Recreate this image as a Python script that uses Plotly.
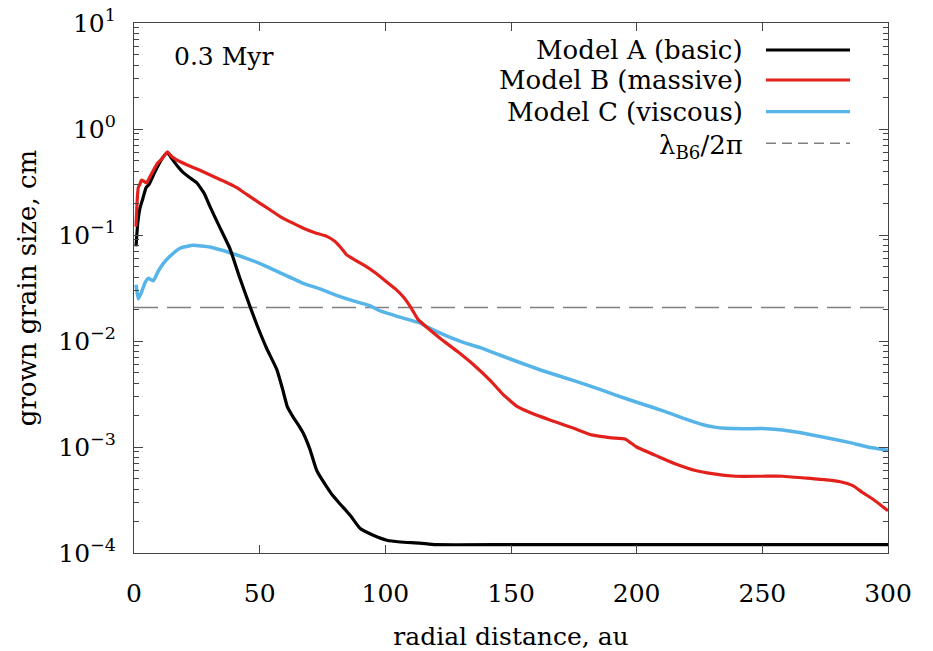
import plotly.graph_objects as go

# ---------------- data ----------------
r_a = [0.8, 1.5, 2.4, 3.5, 4.8, 6, 8, 10, 11.5, 13.3, 14.5, 16, 17.5, 19.5, 22, 25, 28,
       30.2, 34, 38.2, 42, 46.2, 49, 52.8, 56.8, 59, 61, 63.4, 65.5, 67.4, 70, 72.7, 76.7,
       79, 82, 86, 90, 95.2, 100.6, 106, 113.8, 120, 150, 200, 250, 300]
a_model_a = [0.078, 0.13, 0.18, 0.22, 0.28, 0.3, 0.38, 0.47, 0.54, 0.60, 0.55, 0.49, 0.44,
             0.39, 0.35, 0.31, 0.245, 0.186, 0.12, 0.074, 0.04, 0.021, 0.014, 0.0085, 0.0054,
             0.0036, 0.0024, 0.0019, 0.0016, 0.00134, 0.00095, 0.0006, 0.00042, 0.00035,
             0.00029, 0.000227, 0.00017, 0.000147, 0.000132, 0.000127, 0.000124, 0.00012,
             0.00012, 0.00012, 0.00012, 0.00012]

r_b = [0.8, 1.2, 1.7, 2.3, 3, 4, 5, 6.5, 8, 9.5, 11, 12.3, 13.3, 15, 17, 21, 26, 31.6, 36,
       40.9, 45, 50, 54.1, 58, 63, 67.4, 72, 76.7, 80, 82.5, 84.6, 88, 92.6, 96, 100.6, 104,
       107.2, 110, 113, 116.6, 122, 128.6, 135, 141.9, 147, 152.6, 160, 167.3, 175, 182, 190,
       195.4, 200, 208.7, 215, 223.4, 230, 239.4, 250, 258.1, 267, 275.5, 281, 286.2, 290,
       294.2, 300]
a_model_b = [0.12, 0.2, 0.28, 0.3, 0.33, 0.32, 0.31, 0.36, 0.42, 0.48, 0.52, 0.57, 0.61, 0.55,
             0.51, 0.46, 0.41, 0.356, 0.32, 0.28, 0.24, 0.2, 0.173, 0.15, 0.13, 0.116, 0.105,
             0.097, 0.087, 0.075, 0.065, 0.058, 0.050, 0.044, 0.036, 0.031, 0.026, 0.021, 0.016,
             0.0134, 0.0105, 0.0080, 0.006, 0.0042, 0.0031, 0.0024, 0.002, 0.00174, 0.0015,
             0.0013, 0.00122, 0.00119, 0.001, 0.00081, 0.0007, 0.0006, 0.00056, 0.00053,
             0.00053, 0.00053, 0.00051, 0.00049, 0.00047, 0.00043, 0.00037, 0.00032, 0.00025]

r_c = [0.8, 1.7, 3, 4.5, 5.7, 7.7, 9.5, 11.7, 14, 18.3, 23.6, 30.2, 38.2, 45, 51.5, 60, 67.4,
       74, 80.6, 87, 93.9, 98, 105, 113.8, 116.6, 124.6, 131, 138, 146, 154, 162, 171.4, 181,
       191.4, 201, 211.4, 219, 226.1, 231, 235.4, 243, 251.5, 258, 264.8, 275, 284.9, 292, 300]
a_model_c = [0.034, 0.025, 0.029, 0.036, 0.039, 0.037, 0.045, 0.054, 0.062, 0.075, 0.080,
             0.077, 0.068, 0.06, 0.052, 0.042, 0.035, 0.031, 0.027, 0.024, 0.0215, 0.0192,
             0.017, 0.0148, 0.0136, 0.0111, 0.0097, 0.0086, 0.0073, 0.0062, 0.0053, 0.0045,
             0.0038, 0.0031, 0.0026, 0.00216, 0.00185, 0.00163, 0.00154, 0.0015, 0.00149,
             0.00149, 0.00145, 0.00137, 0.00123, 0.0011, 0.001, 0.00093]

r_lam = [0, 300]
lam_b6_2pi = [0.0207, 0.0207]

series_names = ["Model A (basic)", "Model B (massive)", "Model C (viscous)",
                "λ<sub>B6</sub>/2π"]
series_colors = ["#000000", "#e3211c", "#56b4e9", "#808080"]

y_tickvals = [1e-4, 1e-3, 1e-2, 1e-1, 1e0, 1e1]
y_ticktext = ["10<sup>−4</sup>", "10<sup>−3</sup>", "10<sup>−2</sup>",
              "10<sup>−1</sup>", "10<sup>0</sup>", "10<sup>1</sup>"]
y_minor = [m * 10.0 ** e for e in range(-4, 1) for m in range(2, 10)]
x_tickvals = [0, 50, 100, 150, 200, 250, 300]

FONT = "DejaVu Serif"

fig = go.Figure()
fig.add_trace(go.Scatter(x=r_lam, y=lam_b6_2pi, mode="lines",
                         line=dict(color=series_colors[3], width=1.5, dash="24px,9px"),
                         showlegend=False))
fig.add_trace(go.Scatter(x=r_c, y=a_model_c, mode="lines",
                         line=dict(color=series_colors[2], width=3.5, shape="spline",
                                   smoothing=0.4), showlegend=False))
fig.add_trace(go.Scatter(x=r_a, y=a_model_a, mode="lines",
                         line=dict(color=series_colors[0], width=3.2, shape="spline",
                                   smoothing=0.4), showlegend=False))
fig.add_trace(go.Scatter(x=r_b, y=a_model_b, mode="lines",
                         line=dict(color=series_colors[1], width=3.2, shape="spline",
                                   smoothing=0.4), showlegend=False))

# manual legend (text right, sample on right, gnuplot style)
L, R, T, B = 134, 888, 23, 553
def px(xp):
    return (xp - L) / (R - L)
def py(yp):
    return (B - yp) / (B - T)

rows_y = [50, 80, 111.7, 143.3]
for i, name in enumerate(series_names):
    fig.add_annotation(x=px(745), y=py(rows_y[i] + (3 if i == 3 else 0)),
                       xref="paper", yref="paper",
                       text=name, showarrow=False, xanchor="right", yanchor="middle",
                       font=dict(family=FONT, size=26, color="black"))
    fig.add_shape(type="line", xref="paper", yref="paper",
                  x0=px(766), x1=px(850), y0=py(rows_y[i]), y1=py(rows_y[i]),
                  line=dict(color=series_colors[i], width=3.2 if i < 3 else 1.5,
                            dash="solid" if i < 3 else "10px,6px"))

fig.add_annotation(x=px(172), y=py(57), xref="paper", yref="paper", text="0.3 Myr",
                   showarrow=False, xanchor="left", yanchor="middle",
                   font=dict(family=FONT, size=25, color="black"))

axis_common = dict(showline=True, linecolor="#444444", linewidth=1.2, mirror="ticks",
                   ticks="inside", tickcolor="#444444", showgrid=False, zeroline=False,
                   tickfont=dict(family=FONT, size=25, color="black"))

fig.update_xaxes(range=[0, 300], tickvals=x_tickvals, ticklen=8, tickwidth=1.2,
                 ticklabelstandoff=18,
                 title=dict(text="radial distance, au", standoff=20,
                            font=dict(family=FONT, size=25, color="black")),
                 **axis_common)
fig.update_yaxes(type="log", range=[-4, 1], tickvals=y_tickvals, ticktext=y_ticktext,
                 ticklen=9, tickwidth=1.2, ticklabelstandoff=12,
                 minor=dict(tickvals=y_minor, ticks="inside", ticklen=5,
                            tickcolor="#444444", tickwidth=1),
                 title=dict(text="grown grain size, cm", standoff=14,
                            font=dict(family=FONT, size=26, color="black")),
                 **axis_common)

fig.update_layout(width=933, height=651, margin=dict(l=L, r=933 - R, t=T, b=651 - B, autoexpand=False),
                  paper_bgcolor="white", plot_bgcolor="white",
                  font=dict(family=FONT, color="black"))

fig.write_html("out.html")
